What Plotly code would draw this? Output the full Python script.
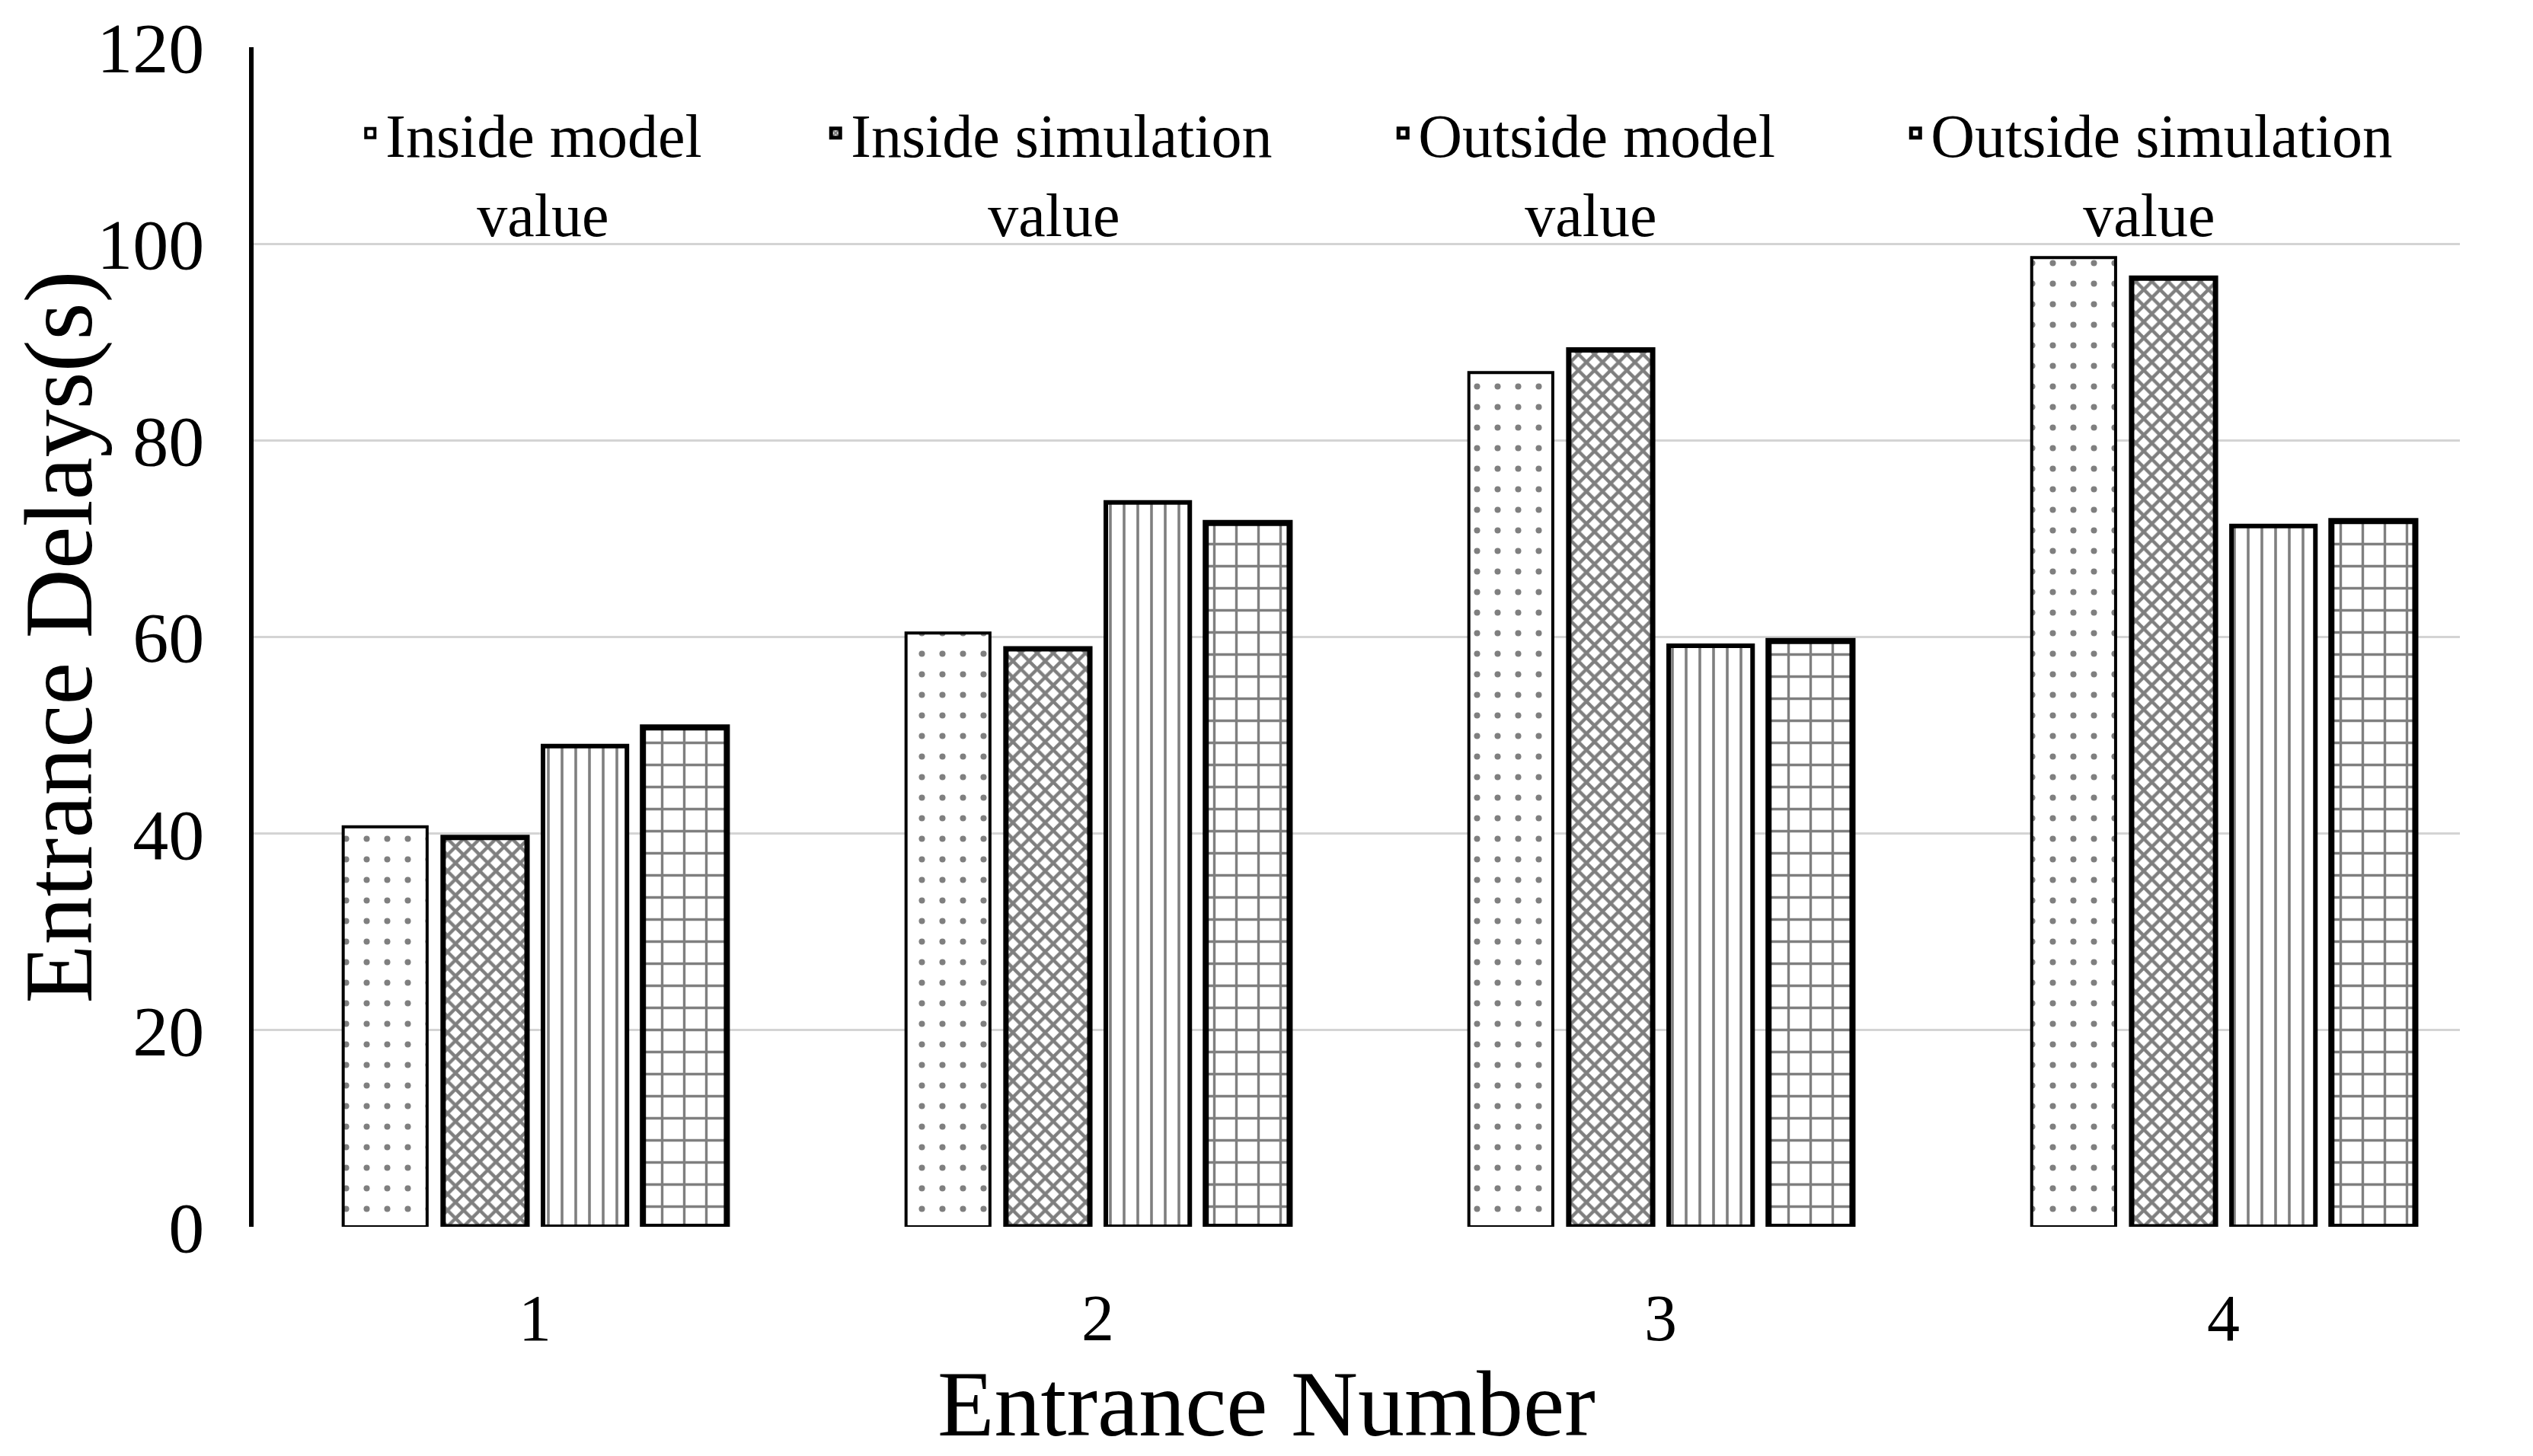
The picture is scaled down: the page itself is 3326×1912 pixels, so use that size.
import plotly.graph_objects as go

entrances = ["1", "2", "3", "4"]
inside_model = [40.7, 60.4, 86.9, 98.6]
inside_sim = [39.6, 58.8, 89.2, 96.5]
outside_model = [48.9, 73.7, 59.1, 71.3]
outside_sim = [50.8, 71.6, 59.6, 71.8]

NB = "\u00a0"
names = [
    "Inside model<br>" + NB * 6 + "value",
    "Inside simulation<br>" + NB * 9 + "value",
    "Outside model<br>" + NB * 7 + "value",
    "Outside simulation<br>" + NB * 10 + "value",
]
series = [inside_model, inside_sim, outside_model, outside_sim]
patterns = [
    dict(shape=".", size=27, solidity=0.07, fgcolor="black", bgcolor="white"),
    dict(shape="x", size=15, solidity=0.5, fgcolor="black", bgcolor="white"),
    dict(shape="|", size=18, solidity=0.2, fgcolor="black", bgcolor="white"),
    dict(shape="+", size=29, solidity=0.22, fgcolor="black", bgcolor="white"),
]
line_widths = [4, 7, 6, 8]
legend_widths = [566, 700, 628, 600]

font_family = "Liberation Serif, Times New Roman, serif"

fig = go.Figure()
for name, vals, pat, lw, lgw in zip(names, series, patterns, line_widths, legend_widths):
    fig.add_trace(go.Bar(
        x=entrances, y=vals, name=name,
        marker=dict(color="white", pattern=pat, line=dict(color="black", width=lw)),
        legendwidth=lgw,
    ))

fig.add_annotation(
    text="Entrance Number", xref="paper", yref="paper", x=0.459, y=-0.15,
    xanchor="center", yanchor="middle", showarrow=False,
    font=dict(size=122, family=font_family, color="black"),
)

fig.update_layout(
    width=3326, height=1912,
    margin=dict(l=325, r=104, t=54, b=309),
    paper_bgcolor="white", plot_bgcolor="white",
    barmode="group", bargap=0.29, bargroupgap=0.16,
    font=dict(family=font_family, color="black", size=80),
    showlegend=True,
    legend=dict(
        orientation="h", x=0.046, xanchor="left", y=0.965, yanchor="top",
        font=dict(size=80, family=font_family, color="black"),
        valign="top", bgcolor="rgba(0,0,0,0)", traceorder="normal",
    ),
    xaxis=dict(
        type="category", range=[-0.5, 3.42],
        tickfont=dict(size=86, family=font_family),
        showgrid=False, showline=False, ticks="", ticklabelstandoff=62,
        automargin=False,
    ),
    yaxis=dict(
        range=[0, 120], tickmode="array", tickvals=[0, 20, 40, 60, 80, 100, 120],
        title=dict(text="Entrance Delays(s)", font=dict(size=126, family=font_family), standoff=36),
        tickfont=dict(size=94, family=font_family),
        showgrid=False, zeroline=False,
        minor=dict(tickmode="array", tickvals=[0, 20, 40, 60, 80, 100], showgrid=True,
                   gridcolor="#d4d4d4", gridwidth=3, ticks=""),
        showline=True, linecolor="black", linewidth=6,
        ticks="", ticklabelstandoff=40, automargin=False,
    ),
)

fig.write_html("out.html")
